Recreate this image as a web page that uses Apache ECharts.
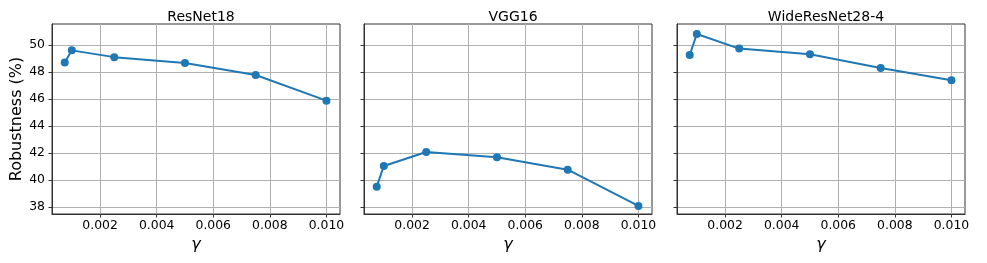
<!DOCTYPE html>
<html>
<head>
<meta charset="utf-8">
<script src="https://cdn.jsdelivr.net/npm/echarts@6/dist/echarts.min.js"></script>
<style>
html,body{margin:0;padding:0;background:#fff;}
#chart{width:987px;height:263px;}
</style>
</head>
<body>
<div id="chart"></div>
<script>
const gammas = [0.00075, 0.001, 0.0025, 0.005, 0.0075, 0.01];
const titles = ['ResNet18', 'VGG16', 'WideResNet28-4'];
const resnet18 = [48.7, 49.6, 49.1, 48.67, 47.78, 45.88];
const vgg16 = [39.52, 41.05, 42.09, 41.7, 40.78, 38.1];
const wrn28 = [49.26, 50.81, 49.73, 49.31, 48.3, 47.39];
const xTicks = [0.002, 0.004, 0.006, 0.008, 0.010];
const yTicks = [38, 40, 42, 44, 46, 48, 50];
const yLabel = 'Robustness (%)';
const xLabel = 'γ';

const seriesValues = [resnet18, vgg16, wrn28];
const font = 'DejaVu Sans';
const lefts = [52, 364, 677];
const W = 288, TOP = 24, H = 190;

const chart = echarts.init(document.getElementById('chart'), null, {renderer: 'canvas'});
const option = {
  animation: false,
  backgroundColor: '#fff',
  title: titles.map((t, i) => ({
    text: t, left: lefts[i] + W / 2, top: 5, textAlign: 'center',
    textStyle: {fontFamily: font, fontSize: 14, fontWeight: 'normal', color: '#000'}
  })),
  grid: lefts.map(l => ({left: l, top: TOP, width: W, height: H, show: true,
    borderColor: '#333', borderWidth: 1, backgroundColor: 'transparent'})),
  xAxis: lefts.map((l, i) => ({
    type: 'value', gridIndex: i, min: 0.0003, max: 0.01048,
    name: xLabel, nameLocation: 'middle', nameGap: 21,
    nameTextStyle: {fontFamily: font, fontSize: 16, fontStyle: 'italic', color: '#000'},
    axisLine: {show: true, onZero: false, lineStyle: {color: '#333', width: 1}},
    axisTick: {show: true, length: 3.5, customValues: xTicks, lineStyle: {color: '#333'}},
    axisLabel: {customValues: xTicks, margin: 6, fontFamily: font, fontSize: 12.4, color: '#000',
      formatter: v => v.toFixed(3)},
    splitLine: {show: true, lineStyle: {color: '#b0b0b0', width: 1}}
  })),
  yAxis: lefts.map((l, i) => ({
    type: 'value', gridIndex: i, min: 37.5, max: 51.55,
    name: i === 0 ? yLabel : '', nameLocation: 'middle', nameGap: 27,
    nameTextStyle: {fontFamily: font, fontSize: 16, color: '#000'},
    axisLine: {show: true, onZero: false, lineStyle: {color: '#333', width: 1}},
    axisTick: {show: true, length: 3.5, customValues: yTicks, lineStyle: {color: '#333'}},
    axisLabel: {show: i === 0, customValues: yTicks, margin: 7, fontFamily: font, fontSize: 12.4, color: '#000'},
    splitLine: {show: true, lineStyle: {color: '#b0b0b0', width: 1}}
  })),
  series: seriesValues.map((vals, i) => ({
    type: 'line', xAxisIndex: i, yAxisIndex: i,
    data: gammas.map((g, j) => [g, vals[j]]),
    symbol: 'circle', symbolSize: 8,
    lineStyle: {color: '#1f77b4', width: 2},
    itemStyle: {color: '#1f77b4'}
  }))
};
chart.setOption(option);
</script>
</body>
</html>
